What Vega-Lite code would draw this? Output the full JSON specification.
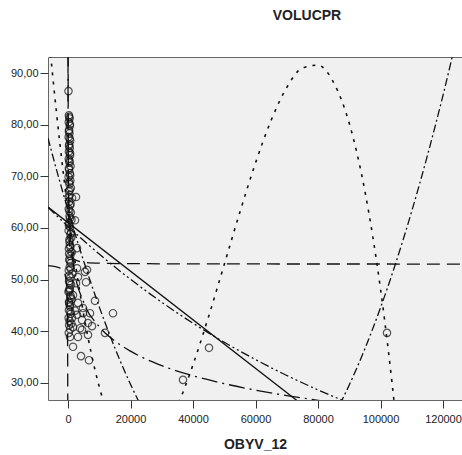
{
  "$schema": "https://vega.github.io/schema/vega-lite/v6.json",
  "autosize": {"type": "none"},
  "padding": {"left": 48, "top": 57, "right": 0, "bottom": 55},
  "width": 414,
  "height": 343,
  "background": "white",
  "title": {"text": "VOLUCPR", "anchor": "middle", "dx": 52, "offset": 34, "fontSize": 14, "fontWeight": "bold", "font": "Liberation Sans", "color": "#222"},
  "config": {
    "view": {"fill": "#f0f0f0", "stroke": "#666", "strokeWidth": 1},
    "axis": {"labelFont": "Liberation Sans", "labelFontSize": 11, "labelColor": "#222", "tickColor": "#333", "domain": false, "grid": false, "titleFont": "Liberation Sans", "titleColor": "#222"}
  },
  "datasets": {
    "pts": [
      {"x":150,"y":86.5},{"x":300,"y":81.8},{"x":500,"y":81.2},{"x":250,"y":80.5},{"x":600,"y":79.8},{"x":350,"y":79.0},{"x":450,"y":78.3},{"x":200,"y":77.6},{"x":700,"y":76.9},{"x":400,"y":76.2},{"x":550,"y":75.5},{"x":300,"y":74.8},{"x":650,"y":74.1},{"x":250,"y":73.4},{"x":500,"y":72.7},{"x":800,"y":72.0},{"x":350,"y":71.3},{"x":600,"y":70.6},{"x":200,"y":69.9},{"x":750,"y":69.2},{"x":450,"y":68.5},{"x":900,"y":67.8},{"x":300,"y":67.1},{"x":550,"y":66.4},{"x":1300,"y":65.8},{"x":400,"y":65.1},{"x":700,"y":64.4},{"x":250,"y":63.7},{"x":900,"y":63.0},{"x":500,"y":62.3},{"x":1100,"y":61.6},{"x":350,"y":60.9},{"x":650,"y":60.2},{"x":200,"y":59.5},{"x":800,"y":58.8},{"x":1000,"y":58.1},{"x":450,"y":57.4},{"x":600,"y":56.7},{"x":300,"y":56.0},{"x":1200,"y":55.3},{"x":700,"y":54.6},{"x":400,"y":53.9},{"x":900,"y":53.2},{"x":550,"y":52.5},{"x":250,"y":51.8},{"x":1400,"y":51.1},{"x":750,"y":50.4},{"x":350,"y":49.7},{"x":1000,"y":49.0},{"x":500,"y":48.3},{"x":200,"y":47.6},{"x":800,"y":46.9},{"x":1200,"y":46.2},{"x":400,"y":45.5},{"x":650,"y":44.8},{"x":300,"y":44.1},{"x":900,"y":43.4},{"x":500,"y":42.0},{"x":350,"y":41.2},{"x":700,"y":40.4},{"x":250,"y":39.7},
      {"x":400,"y":81.5},{"x":600,"y":80.1},{"x":300,"y":78.7},{"x":550,"y":77.3},{"x":350,"y":75.9},{"x":650,"y":74.5},{"x":450,"y":73.0},{"x":300,"y":71.6},{"x":700,"y":70.2},{"x":400,"y":68.9},{"x":600,"y":67.4},{"x":250,"y":66.0},{"x":800,"y":64.7},{"x":450,"y":63.3},{"x":650,"y":61.9},{"x":300,"y":60.5},{"x":950,"y":59.1},{"x":500,"y":57.8},{"x":750,"y":56.3},{"x":350,"y":55.0},{"x":600,"y":53.6},{"x":850,"y":52.1},{"x":400,"y":50.8},{"x":650,"y":49.3},{"x":300,"y":47.9},{"x":900,"y":46.5},{"x":550,"y":45.1},{"x":750,"y":43.8},{"x":200,"y":42.6},{"x":1100,"y":41.5},
      {"x":2880,"y":52.2},{"x":5440,"y":51.5},{"x":5760,"y":49.5},{"x":2560,"y":49.3},{"x":8640,"y":45.9},{"x":14400,"y":43.5},{"x":7040,"y":43.5},{"x":4800,"y":43.5},{"x":2880,"y":43.2},{"x":1280,"y":42.6},{"x":4480,"y":42.2},{"x":6400,"y":41.6},{"x":7680,"y":41.0},{"x":3840,"y":40.6},{"x":1600,"y":40.8},{"x":11840,"y":39.7},{"x":6400,"y":39.3},{"x":4480,"y":40.3},{"x":3200,"y":38.9},{"x":640,"y":38.9},{"x":1600,"y":37.0},{"x":4160,"y":35.2},{"x":6720,"y":34.4},{"x":36800,"y":30.6},{"x":45120,"y":36.8},{"x":102080,"y":39.7},{"x":2560,"y":66.0},{"x":2240,"y":61.5},{"x":2880,"y":56.1},{"x":6080,"y":51.9},{"x":3200,"y":50.5},{"x":600,"y":48.0},{"x":1600,"y":47.0},{"x":320,"y":45.7},{"x":3200,"y":45.5},{"x":4800,"y":44.5},{"x":2240,"y":44.0}
    ],
    "lin": [{"x":-6400,"y":64.04},{"x":126080,"y":1.77}],
    "log": [{"x":5,"y":93.0},{"x":10,"y":88.29},{"x":20,"y":83.5},{"x":50,"y":77.24},{"x":100,"y":72.49},{"x":200,"y":67.74},{"x":500,"y":61.45},{"x":1000,"y":56.70},{"x":2000,"y":51.94},{"x":5000,"y":45.65},{"x":10000,"y":40.9},{"x":15000,"y":38.12},{"x":20000,"y":36.15},{"x":30000,"y":33.36},{"x":40000,"y":31.39},{"x":50000,"y":29.86},{"x":60000,"y":28.61},{"x":70000,"y":27.55},{"x":80000,"y":26.64},{"x":90000,"y":25.83}],
    "inv": [
      {"x":-6400,"y":52.70,"seg":"a"},{"x":-4000,"y":52.52,"seg":"a"},{"x":-2000,"y":52.04,"seg":"a"},{"x":-1000,"y":51.08,"seg":"a"},{"x":-500,"y":49.16,"seg":"a"},{"x":-300,"y":46.6,"seg":"a"},{"x":-200,"y":43.4,"seg":"a"},{"x":-100,"y":33.8,"seg":"a"},{"x":-60,"y":21.0,"seg":"a"},
      {"x":30,"y":117.0,"seg":"b"},{"x":50,"y":91.4,"seg":"b"},{"x":75,"y":78.6,"seg":"b"},{"x":100,"y":72.2,"seg":"b"},{"x":200,"y":62.6,"seg":"b"},{"x":500,"y":56.84,"seg":"b"},{"x":1000,"y":54.92,"seg":"b"},{"x":2000,"y":53.96,"seg":"b"},{"x":5000,"y":53.38,"seg":"b"},{"x":10000,"y":53.19,"seg":"b"},{"x":20000,"y":53.10,"seg":"b"},{"x":50000,"y":53.04,"seg":"b"},{"x":126080,"y":53.02,"seg":"b"}
    ],
    "quad": [{"x":-6400,"y":77.4},{"x":-5000,"y":74.22},{"x":0,"y":63.46},{"x":5000,"y":53.62},{"x":10000,"y":44.73},{"x":15000,"y":36.77},{"x":20000,"y":29.74},{"x":25000,"y":23.65},{"x":30000,"y":18.5},{"x":80000,"y":18.4},{"x":85000,"y":23.54},{"x":90000,"y":29.61},{"x":95000,"y":36.62},{"x":100000,"y":44.56},{"x":105000,"y":53.44},{"x":110000,"y":63.25},{"x":115000,"y":74.0},{"x":120000,"y":85.68},{"x":125000,"y":98.3},{"x":126080,"y":100.9}],
    "cub": [{"x":-6400,"y":98.8},{"x":-5000,"y":90.06},{"x":-2500,"y":75.85},{"x":0,"y":63.38},{"x":2500,"y":52.56},{"x":5000,"y":43.33},{"x":7500,"y":35.59},{"x":10000,"y":29.26},{"x":12500,"y":24.26},{"x":20000,"y":16.42},{"x":30000,"y":19.6},{"x":35000,"y":25.54},{"x":40000,"y":33.52},{"x":45000,"y":42.87},{"x":50000,"y":52.94},{"x":55000,"y":63.06},{"x":60000,"y":72.58},{"x":65000,"y":80.85},{"x":70000,"y":87.2},{"x":75000,"y":90.97},{"x":80000,"y":91.51},{"x":85000,"y":88.16},{"x":90000,"y":80.26},{"x":95000,"y":67.16},{"x":97500,"y":58.45},{"x":100000,"y":48.2},{"x":102500,"y":36.31},{"x":105000,"y":22.72}],
    "exp": [{"x":-6400,"y":64.0},{"x":0,"y":60.3},{"x":10000,"y":54.95},{"x":20000,"y":50.07},{"x":30000,"y":45.62},{"x":40000,"y":41.57},{"x":50000,"y":37.88},{"x":60000,"y":34.52},{"x":70000,"y":31.45},{"x":80000,"y":28.66},{"x":90000,"y":26.12},{"x":100000,"y":23.8}]
  },
  "encoding": {
    "x": {"field": "x", "type": "quantitative",
      "scale": {"domain": [-6400, 126080], "nice": false, "zero": false},
      "axis": {"values": [0, 20000, 40000, 60000, 80000, 100000, 120000], "format": "d", "tickSize": 8, "labelPadding": 5, "title": "OBYV_12", "titleFontSize": 14, "titleFontWeight": "bold", "titlePadding": 13}},
    "y": {"field": "y", "type": "quantitative",
      "scale": {"domain": [26.7, 93.1], "nice": false, "zero": false},
      "axis": {"values": [30, 40, 50, 60, 70, 80, 90], "labelExpr": "replace(format(datum.value, '.2f'), '.', ',')", "tickSize": 8, "labelPadding": 2, "title": null}}
  },
  "layer": [
    {"data": {"name": "lin"}, "mark": {"type": "line", "clip": true, "color": "#111", "strokeWidth": 1.3}},
    {"data": {"name": "exp"}, "mark": {"type": "line", "clip": true, "color": "#111", "strokeWidth": 1.3, "interpolate": "monotone", "strokeDash": [9, 3, 2, 3, 2, 3]}},
    {"data": {"name": "log"}, "mark": {"type": "line", "clip": true, "color": "#111", "strokeWidth": 1.3, "interpolate": "monotone", "strokeDash": [16, 5, 2, 5]}},
    {"data": {"name": "inv"}, "mark": {"type": "line", "clip": true, "color": "#111", "strokeWidth": 1.3, "interpolate": "monotone", "strokeDash": [13, 7]}, "encoding": {"detail": {"field": "seg"}}},
    {"data": {"name": "quad"}, "mark": {"type": "line", "clip": true, "color": "#111", "strokeWidth": 1.3, "interpolate": "monotone", "strokeDash": [8, 3, 2, 3]}},
    {"data": {"name": "cub"}, "mark": {"type": "line", "clip": true, "color": "#111", "strokeWidth": 1.6, "interpolate": "monotone", "strokeDash": [3, 6]}},
    {"data": {"name": "pts"}, "mark": {"type": "point", "shape": "circle", "filled": false, "stroke": "#111", "strokeWidth": 1.2, "size": 55, "clip": true}}
  ]
}
